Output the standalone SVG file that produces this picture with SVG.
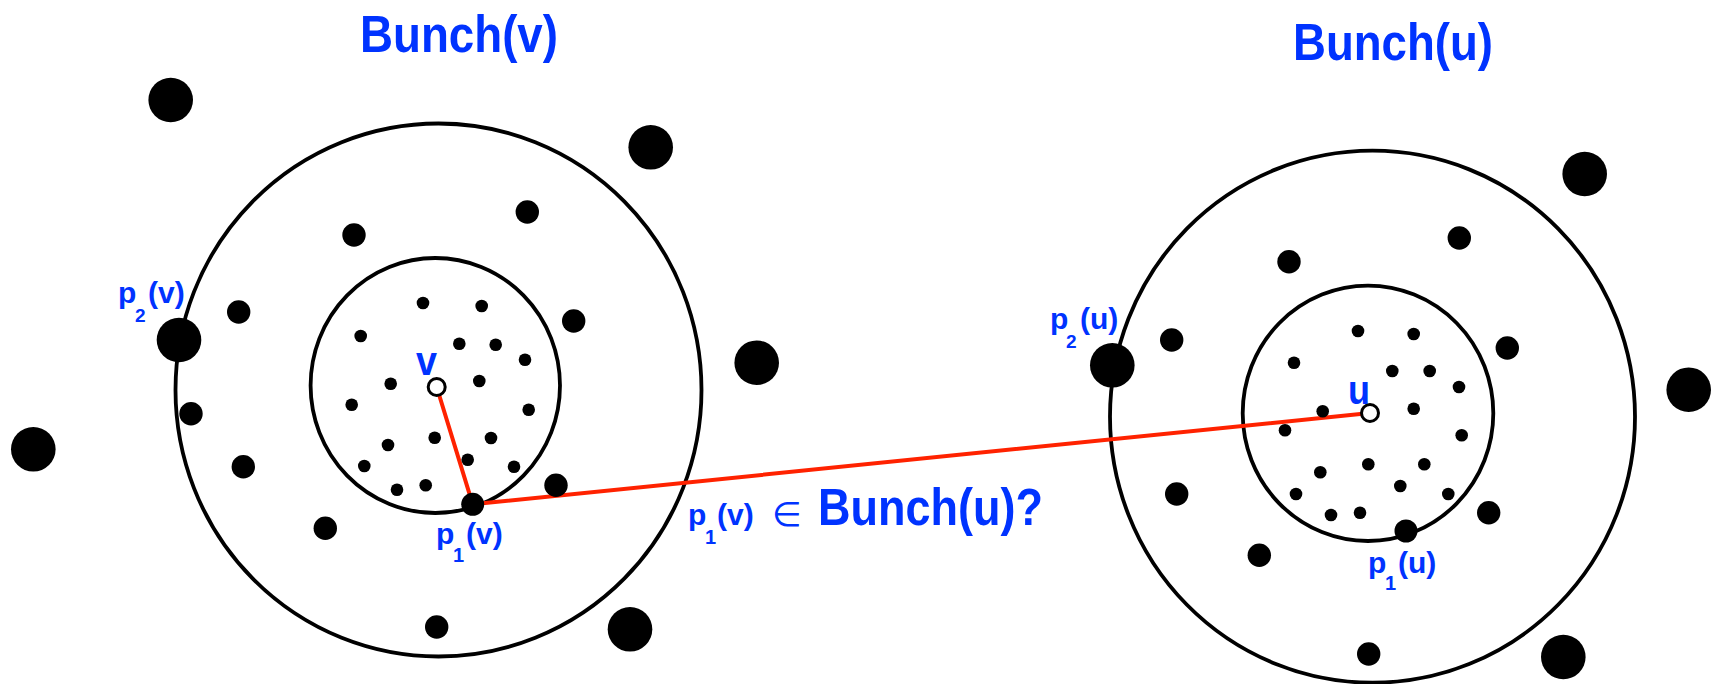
<svg xmlns="http://www.w3.org/2000/svg" width="1719" height="684" viewBox="0 0 1719 684">
<style>
.ring{fill:none;stroke:#000;stroke-width:3.8}
.big{fill:#000}
.lbl{font-family:"Liberation Sans",Arial,sans-serif;font-weight:bold;fill:#0033ff}
.sym{font-family:"DejaVu Sans",sans-serif;font-weight:normal;fill:#0033ff}
.edge{fill:none;stroke:#ff2200;stroke-width:4;stroke-linejoin:round}
.open{fill:#fff;stroke:#000;stroke-width:3}
</style>
<rect width="1719" height="684" fill="#fff"/>
<g id="bunch-v">
<ellipse class="ring" cx="438.5" cy="390" rx="263" ry="266.5"/>
<ellipse class="ring" cx="435.3" cy="385.5" rx="124.7" ry="127.5"/>
</g>
<g id="bunch-u">
<ellipse class="ring" cx="1372.5" cy="416.7" rx="262.5" ry="266"/>
<ellipse class="ring" cx="1368" cy="413.3" rx="125.3" ry="127.7"/>
</g>
<g id="connectors">
<polyline class="edge" points="436.7,387 472.7,504.3 1370,413"/>
</g>
<g id="points-left">
<g class="big">
<circle cx="170.7" cy="100" r="22.3"/>
<circle cx="650.7" cy="147.3" r="22.3"/>
<circle cx="33.3" cy="449.3" r="22.3"/>
<circle cx="756.7" cy="362.7" r="22.3"/>
<circle cx="630" cy="629.3" r="22.3"/>
<circle cx="354" cy="235" r="11.7"/>
<circle cx="527.3" cy="212" r="11.7"/>
<circle cx="238.7" cy="312" r="11.7"/>
<circle cx="573.7" cy="321" r="11.7"/>
<circle cx="191" cy="413.7" r="11.7"/>
<circle cx="243.3" cy="466.7" r="11.7"/>
<circle cx="325.3" cy="528.3" r="11.7"/>
<circle cx="556" cy="485.3" r="11.7"/>
<circle cx="436.7" cy="627" r="11.7"/>
<circle cx="423" cy="303" r="6.3"/>
<circle cx="481.7" cy="306" r="6.3"/>
<circle cx="360.7" cy="336" r="6.3"/>
<circle cx="459.3" cy="343.7" r="6.3"/>
<circle cx="495.7" cy="344.7" r="6.3"/>
<circle cx="525" cy="359.7" r="6.3"/>
<circle cx="390.7" cy="383.7" r="6.3"/>
<circle cx="479.3" cy="381" r="6.3"/>
<circle cx="351.7" cy="404.7" r="6.3"/>
<circle cx="528.7" cy="409.7" r="6.3"/>
<circle cx="388" cy="445" r="6.3"/>
<circle cx="434.7" cy="437.7" r="6.3"/>
<circle cx="491" cy="438" r="6.3"/>
<circle cx="364.3" cy="466" r="6.3"/>
<circle cx="467.7" cy="459.7" r="6.3"/>
<circle cx="514" cy="466.7" r="6.3"/>
<circle cx="397" cy="489.7" r="6.3"/>
<circle cx="425.7" cy="485.3" r="6.3"/>
</g>
</g>
<g id="points-right">
<g class="big">
<circle cx="1584.7" cy="174" r="22.3"/>
<circle cx="1688.7" cy="389.7" r="22.3"/>
<circle cx="1563.3" cy="657" r="22.3"/>
<circle cx="1171.7" cy="340" r="11.7"/>
<circle cx="1289" cy="261.7" r="11.7"/>
<circle cx="1459.3" cy="238" r="11.7"/>
<circle cx="1507.3" cy="348" r="11.7"/>
<circle cx="1176.7" cy="494" r="11.7"/>
<circle cx="1259.3" cy="555.3" r="11.7"/>
<circle cx="1488.7" cy="512.7" r="11.7"/>
<circle cx="1368.7" cy="654" r="11.7"/>
<circle cx="1358" cy="331" r="6.3"/>
<circle cx="1413.7" cy="334" r="6.3"/>
<circle cx="1294" cy="362.7" r="6.3"/>
<circle cx="1392.3" cy="371" r="6.3"/>
<circle cx="1429.7" cy="371" r="6.3"/>
<circle cx="1459" cy="387" r="6.3"/>
<circle cx="1322.7" cy="411.3" r="6.3"/>
<circle cx="1413.7" cy="408.7" r="6.3"/>
<circle cx="1285" cy="430.3" r="6.3"/>
<circle cx="1461.7" cy="435.3" r="6.3"/>
<circle cx="1368.3" cy="464.3" r="6.3"/>
<circle cx="1424.3" cy="464.3" r="6.3"/>
<circle cx="1320.3" cy="472.3" r="6.3"/>
<circle cx="1400.3" cy="486" r="6.3"/>
<circle cx="1296" cy="494" r="6.3"/>
<circle cx="1448.3" cy="494" r="6.3"/>
<circle cx="1331" cy="515" r="6.3"/>
<circle cx="1360" cy="512.7" r="6.3"/>
</g>
</g>
<g id="node-v">
<circle class="open" cx="436.7" cy="387" r="8.5"/>
<text class="lbl" x="416" y="375" font-size="40" textLength="21" lengthAdjust="spacingAndGlyphs">v</text>
</g>
<g id="node-u">
<circle class="open" cx="1370" cy="413" r="8.5"/>
<text class="lbl" x="1348" y="404" font-size="40" textLength="22" lengthAdjust="spacingAndGlyphs">u</text>
</g>
<g id="node-p1v">
<circle class="big" cx="472.7" cy="504.3" r="11.5"/>
<text class="lbl" font-size="30"><tspan x="436" y="544">p</tspan><tspan x="453" y="562" font-size="20">1</tspan><tspan x="466" y="544">(v)</tspan></text>
</g>
<g id="node-p2v">
<circle class="big" cx="179" cy="340" r="22.3"/>
<text class="lbl" font-size="30"><tspan x="118" y="303">p</tspan><tspan x="135" y="322" font-size="19">2</tspan><tspan x="148" y="303">(v)</tspan></text>
</g>
<g id="node-p1u">
<circle class="big" cx="1406" cy="531" r="11.5"/>
<text class="lbl" font-size="30"><tspan x="1368" y="573">p</tspan><tspan x="1385" y="590" font-size="20">1</tspan><tspan x="1398" y="573">(u)</tspan></text>
</g>
<g id="node-p2u">
<circle class="big" cx="1112.3" cy="365.3" r="22.3"/>
<text class="lbl" font-size="30"><tspan x="1050" y="329">p</tspan><tspan x="1066" y="348" font-size="19">2</tspan><tspan x="1080" y="329">(u)</tspan></text>
</g>
<g id="titles">
<text class="lbl" x="360" y="52" font-size="52" textLength="198" lengthAdjust="spacingAndGlyphs">Bunch(v)</text>
<text class="lbl" x="1293" y="60" font-size="52" textLength="200" lengthAdjust="spacingAndGlyphs">Bunch(u)</text>
</g>
<g id="question">
<text class="lbl" font-size="30"><tspan x="688" y="525">p</tspan><tspan x="705" y="544" font-size="20">1</tspan><tspan x="717" y="525">(v)</tspan></text>
<text class="sym" x="772" y="526" font-size="34">∈</text>
<text class="lbl" x="818" y="525" font-size="52" textLength="225" lengthAdjust="spacingAndGlyphs">Bunch(u)?</text>
</g>
</svg>
